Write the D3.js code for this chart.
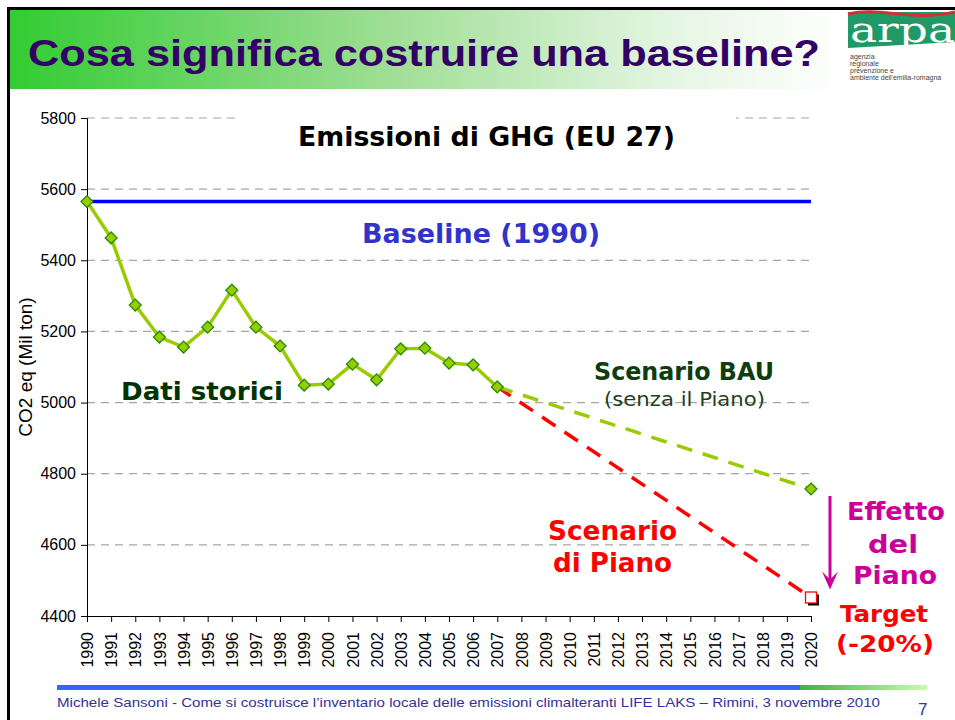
<!DOCTYPE html>
<meta charset="utf-8">
<style>
  body { margin: 0; background: #fff; }
  text { font-family: "Liberation Sans", Arial, sans-serif; }
</style>
<body>
<svg width="955" height="720"></svg>
<script src="https://cdn.jsdelivr.net/npm/d3@7"></script>
<script>
  // historical emissions, EU 27 (Mt CO2 eq)
  var years = [1990, 1991, 1992, 1993, 1994, 1995, 1996, 1997, 1998, 1999,
               2000, 2001, 2002, 2003, 2004, 2005, 2006, 2007];
  var emissions = [5565, 5463, 5274, 5184, 5156, 5212, 5316, 5212, 5159, 5049,
                   5052, 5108, 5064, 5151, 5153, 5111, 5106, 5044];
  var baselineValue = 5565;
  var bauYears = [2007, 2020];
  var bauValues = [5044, 4757];
  var pianoYears = [2007, 2020];
  var pianoValues = [5044, 4452];
  var yTicks = [4400, 4600, 4800, 5000, 5200, 5400, 5600, 5800];
  var xTicks = d3.range(1990, 2021);

  var svg = d3.select("svg");

  // header
  var defs = svg.append("defs");
  var hg = defs.append("linearGradient").attr("id", "headGrad");
  hg.append("stop").attr("offset", "0").attr("stop-color", "#33cc33");
  hg.append("stop").attr("offset", "0.45").attr("stop-color", "#9ede94");
  hg.append("stop").attr("offset", "0.8").attr("stop-color", "#e6f6e4");
  hg.append("stop").attr("offset", "1").attr("stop-color", "#ffffff");
  var fg = defs.append("linearGradient").attr("id", "footGrad");
  fg.append("stop").attr("offset", "0").attr("stop-color", "#33bb33");
  fg.append("stop").attr("offset", "1").attr("stop-color", "#ccff99");

  svg.append("rect").attr("x", 10).attr("y", 10).attr("width", 835).attr("height", 79)
    .attr("fill", "url(#headGrad)");
  svg.append("text").attr("x", 28).attr("y", 66)
    .attr("font-size", 37).attr("font-weight", "bold").attr("fill", "#330066")
    .attr("textLength", 792).attr("lengthAdjust", "spacingAndGlyphs")
    .text("Cosa significa costruire una baseline?");

  // logo
  var logo = svg.append("g");
  logo.append("path").attr("d", "M848,12 H955 V42 L848,48 Z").attr("fill", "#1f9a66");
  logo.append("path").attr("d", "M848,14 C880,6 910,22 955,12").attr("fill", "none")
    .attr("stroke", "#cc3333").attr("stroke-width", 3);
  logo.append("text").attr("x", 850).attr("y", 42).attr("font-size", 36)
    .style("font-family", "'DejaVu Serif', serif").attr("fill", "#fff")
    .attr("textLength", 105).attr("lengthAdjust", "spacingAndGlyphs").text("arpa");
  ["agenzia", "regionale", "prevenzione e", "ambiente dell'emilia-romagna"].forEach(function (t, i) {
    logo.append("text").attr("x", 850).attr("y", 59 + i * 7).attr("font-size", 7)
      .attr("fill", "#444").text(t);
  });

  // frame
  svg.append("path").attr("d", "M8.5,720 V8.5 H955").attr("fill", "none")
    .attr("stroke", "#000").attr("stroke-width", 3);

  // scales
  var x = d3.scaleLinear().domain([1990, 2020]).range([87, 811]);
  var y = d3.scaleLinear().domain([4400, 5800]).range([616, 118]);

  var g = svg.append("g");

  // grid
  g.selectAll(".grid").data(yTicks.slice(1)).enter().append("line")
    .attr("x1", x(1990)).attr("x2", x(2020))
    .attr("y1", function (d) { return y(d); }).attr("y2", function (d) { return y(d); })
    .attr("stroke", "#a6a6a6").attr("stroke-width", 1.2).attr("stroke-dasharray", "8,6");

  // annotations
  function label(txt, x0, len, cy, size, color, bold) {
    g.append("text").attr("x", x0).attr("y", cy)
      .attr("font-size", size).attr("fill", color)
      .attr("font-weight", bold ? "bold" : "normal")
      .attr("textLength", len).attr("lengthAdjust", "spacingAndGlyphs")
      .style("font-family", "'DejaVu Sans', Verdana, sans-serif").text(txt);
  }

  // chart title with white background over the top gridline
  g.append("rect").attr("x", 236).attr("y", 110).attr("width", 500).attr("height", 44).attr("fill", "#fff");
  label("Emissioni di GHG (EU 27)", 298, 377, 146, 26, "#000", true);

  // axes
  var yAxis = g.append("g").attr("transform", "translate(" + x(1990) + ",0)")
    .call(d3.axisLeft(y).tickValues(yTicks).tickSize(6).tickPadding(5).tickFormat(d3.format("d")));
  yAxis.selectAll("text").attr("font-size", 16).attr("fill", "#000")
    .style("font-family", "'Liberation Sans', Arial, sans-serif");
  yAxis.selectAll("line, path").attr("stroke", "#000");

  var xAxis = g.append("g").attr("transform", "translate(0," + y(4400) + ")")
    .call(d3.axisBottom(x).tickValues(xTicks).tickSize(6).tickFormat(d3.format("d")));
  xAxis.selectAll("text")
    .attr("transform", "rotate(-90)")
    .attr("x", -16).attr("y", 0).attr("dy", "0.35em")
    .style("text-anchor", "end")
    .attr("font-size", 16).attr("fill", "#000")
    .style("font-family", "'Liberation Sans', Arial, sans-serif");
  xAxis.selectAll("line, path").attr("stroke", "#000");

  g.append("text").attr("transform", "translate(32,367) rotate(-90)").attr("text-anchor", "middle")
    .attr("font-size", 19).attr("fill", "#000").text("CO2 eq (Mil ton)");

  // baseline
  g.append("line").attr("x1", x(1990)).attr("x2", x(2020))
    .attr("y1", y(baselineValue)).attr("y2", y(baselineValue))
    .attr("stroke", "#0000ff").attr("stroke-width", 3.5);

  var line = d3.line()
    .x(function (d) { return x(d[0]); })
    .y(function (d) { return y(d[1]); });

  // scenarios
  g.append("path").attr("d", line(d3.zip(pianoYears, pianoValues)))
    .attr("fill", "none").attr("stroke", "#ff0000").attr("stroke-width", 3.5)
    .attr("stroke-dasharray", "16,11");
  g.append("path").attr("d", line(d3.zip(bauYears, bauValues)))
    .attr("fill", "none").attr("stroke", "#99cc00").attr("stroke-width", 3.5)
    .attr("stroke-dasharray", "16,11");

  // historical
  var hist = d3.zip(years, emissions);
  g.append("path").attr("d", line(hist))
    .attr("fill", "none").attr("stroke", "#99cc00").attr("stroke-width", 3.5);

  var diamond = d3.symbol().type(d3.symbolDiamond2).size(90);
  g.selectAll(".pt").data(hist.concat([[bauYears[1], bauValues[1]]])).enter().append("path")
    .attr("d", diamond)
    .attr("transform", function (d) { return "translate(" + x(d[0]) + "," + y(d[1]) + ")"; })
    .attr("fill", "#99cc00").attr("stroke", "#228b00").attr("stroke-width", 1.3);

  // target marker
  var tx = x(pianoYears[1]), ty = y(pianoValues[1]);
  g.append("rect").attr("x", tx - 3).attr("y", ty - 3).attr("width", 11).attr("height", 11).attr("fill", "#000");
  g.append("rect").attr("x", tx - 5.5).attr("y", ty - 5.5).attr("width", 11).attr("height", 11)
    .attr("fill", "#fff").attr("stroke", "#ff0000").attr("stroke-width", 1.3);

  // effect arrow
  var ax = 830;
  g.append("line").attr("x1", ax).attr("x2", ax).attr("y1", y(bauValues[1]) + 7).attr("y2", y(pianoValues[1]) - 18)
    .attr("stroke", "#cc0099").attr("stroke-width", 3);
  g.append("path")
    .attr("d", "M" + (ax - 8) + "," + (y(pianoValues[1]) - 26) + " L" + ax + "," + (y(pianoValues[1]) - 8) +
      " L" + (ax + 8) + "," + (y(pianoValues[1]) - 26) + " L" + ax + "," + (y(pianoValues[1]) - 18) + " Z")
    .attr("fill", "#cc0099");

  label("Baseline (1990)", 362, 238, 243, 26, "#3333cc", true);
  label("Dati storici", 121, 162, 400, 25, "#003300", true);
  label("Scenario BAU", 594, 180, 380, 24, "#0f3d0f", true);
  label("(senza il Piano)", 604, 161, 406, 20, "#1f3f1f", false);
  label("Scenario", 548, 129, 540, 26, "#ff0000", true);
  label("di Piano", 553, 119, 572, 26, "#ff0000", true);
  label("Effetto", 847, 98, 520, 25, "#cc0099", true);
  label("del", 868, 50, 553, 25, "#cc0099", true);
  label("Piano", 853, 84, 584, 25, "#cc0099", true);
  label("Target", 840, 88, 622, 23, "#ff0000", true);
  label("(-20%)", 836, 98, 652, 23, "#ff0000", true);

  // footer
  svg.append("rect").attr("x", 57).attr("y", 685).attr("width", 743).attr("height", 5).attr("fill", "#3366ff");
  svg.append("rect").attr("x", 800).attr("y", 685).attr("width", 127).attr("height", 5).attr("fill", "url(#footGrad)");
  svg.append("text").attr("x", 57).attr("y", 707).attr("font-size", 13.5).attr("fill", "#333399")
    .attr("textLength", 823).attr("lengthAdjust", "spacingAndGlyphs")
    .text("Michele Sansoni - Come si costruisce l\u2019inventario locale delle emissioni climalteranti LIFE LAKS \u2013 Rimini, 3 novembre 2010");
  svg.append("text").attr("x", 918).attr("y", 715).attr("font-size", 17).attr("fill", "#333399").text("7");
</script>
</body>
